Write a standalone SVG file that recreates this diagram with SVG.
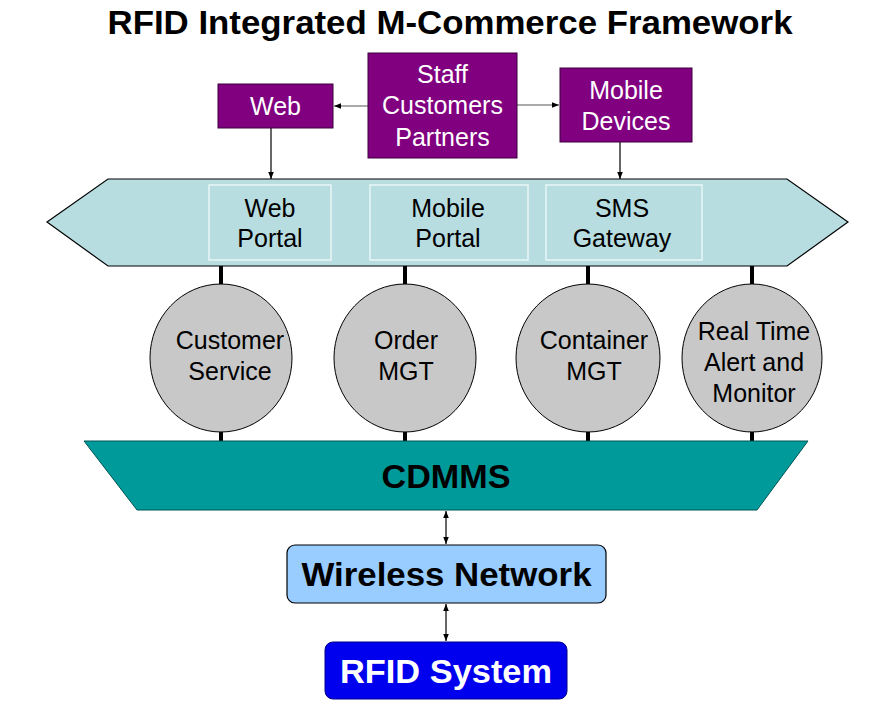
<svg xmlns="http://www.w3.org/2000/svg" width="888" height="713" viewBox="0 0 888 713">
<defs>
<style>
text{font-family:"Liberation Sans",Arial,sans-serif;text-anchor:middle}
.title{font-size:34px;font-weight:bold;fill:#000}
.pbox{fill:#800080;stroke:#3a003a;stroke-width:1}
.ptxt{font-size:25px;fill:#fff}
.band{fill:#b7dde0;stroke:#000;stroke-width:1.2}
.inner{fill:none;stroke:#eaf6f6;stroke-width:1.5}
.btxt{font-size:25px;fill:#000}
.circ{fill:#c8c8c8;stroke:#000;stroke-width:1}
.ctxt{font-size:25px;fill:#000}
.bus{stroke:#000;stroke-width:4}
.thin{stroke:#555;stroke-width:1;fill:none}
.arr{stroke:#000;stroke-width:1.2;fill:none}
.big{font-size:34px;font-weight:bold}
</style>
<marker id="ah" viewBox="0 0 10 10" refX="10" refY="5" markerWidth="7" markerHeight="7" orient="auto-start-reverse" markerUnits="userSpaceOnUse">
<path d="M0,1 L10,5 L0,9 z" fill="#000"/>
</marker>
</defs>
<rect width="888" height="713" fill="#fff"/>
<text class="title" x="450" y="34" textLength="685" lengthAdjust="spacingAndGlyphs">RFID Integrated M-Commerce Framework</text>

<g id="connectors">
<line class="thin" x1="368" y1="106" x2="334" y2="106" marker-end="url(#ah)"/>
<line class="thin" x1="517" y1="105" x2="559" y2="105" marker-end="url(#ah)"/>
<line class="arr" x1="271" y1="128" x2="271" y2="179" marker-end="url(#ah)"/>
<line class="arr" x1="620" y1="142" x2="620" y2="179" marker-end="url(#ah)"/>
<line class="bus" x1="221" y1="266" x2="221" y2="441"/>
<line class="bus" x1="405" y1="266" x2="405" y2="441"/>
<line class="bus" x1="588" y1="266" x2="588" y2="441"/>
<line class="bus" x1="752" y1="266" x2="752" y2="441"/>
<line class="arr" x1="446" y1="511" x2="446" y2="544" marker-start="url(#ah)" marker-end="url(#ah)"/>
<line class="arr" x1="446" y1="604" x2="446" y2="641" marker-start="url(#ah)" marker-end="url(#ah)"/>
</g>

<g id="web">
<rect class="pbox" x="218" y="84" width="115" height="44"/>
<text class="ptxt" x="275.5" y="115">Web</text>
</g>
<g id="staff">
<rect class="pbox" x="368" y="53" width="149" height="105"/>
<text class="ptxt" x="442.5" y="83">Staff</text>
<text class="ptxt" x="442.5" y="114">Customers</text>
<text class="ptxt" x="442.5" y="146">Partners</text>
</g>
<g id="mobile">
<rect class="pbox" x="560" y="68" width="132" height="74"/>
<text class="ptxt" x="626" y="99">Mobile</text>
<text class="ptxt" x="626" y="130">Devices</text>
</g>

<g id="portal-band">
<polygon class="band" points="47,222 108,179 787,179 848,222 787,266 108,266"/>
<rect class="inner" x="209" y="185" width="122" height="75"/>
<rect class="inner" x="370" y="185" width="158" height="75"/>
<rect class="inner" x="546" y="185" width="156" height="75"/>
</g>
<g id="web-portal">
<text class="btxt" x="270" y="217">Web</text>
<text class="btxt" x="270" y="247">Portal</text>
</g>
<g id="mobile-portal">
<text class="btxt" x="448" y="217">Mobile</text>
<text class="btxt" x="448" y="247">Portal</text>
</g>
<g id="sms-gateway">
<text class="btxt" x="622" y="217">SMS</text>
<text class="btxt" x="622" y="247">Gateway</text>
</g>

<g id="customer-service">
<ellipse class="circ" cx="221" cy="358" rx="71" ry="74"/>
<text class="ctxt" x="230" y="349">Customer</text>
<text class="ctxt" x="230" y="380">Service</text>
</g>
<g id="order-mgt">
<ellipse class="circ" cx="405" cy="358" rx="71" ry="74"/>
<text class="ctxt" x="406" y="349">Order</text>
<text class="ctxt" x="406" y="380">MGT</text>
</g>
<g id="container-mgt">
<ellipse class="circ" cx="588" cy="358" rx="72" ry="74"/>
<text class="ctxt" x="594" y="349">Container</text>
<text class="ctxt" x="594" y="380">MGT</text>
</g>
<g id="real-time">
<ellipse class="circ" cx="752" cy="358" rx="70" ry="74"/>
<text class="ctxt" x="754" y="340">Real Time</text>
<text class="ctxt" x="754" y="371">Alert and</text>
<text class="ctxt" x="754" y="402">Monitor</text>
</g>

<g id="cdmms">
<polygon points="84,441 808,441 757,510 137,510" fill="#009a9a" stroke="#005555" stroke-width="1"/>
<text class="big" x="446" y="488" textLength="129" lengthAdjust="spacingAndGlyphs">CDMMS</text>
</g>
<g id="wireless-network">
<rect x="287" y="545" width="319" height="58" rx="8" fill="#99ccff" stroke="#000" stroke-width="1.2"/>
<text class="big" x="446.5" y="586" textLength="290" lengthAdjust="spacingAndGlyphs">Wireless Network</text>
</g>
<g id="rfid-system">
<rect x="325" y="642" width="242" height="57" rx="8" fill="#0000ee" stroke="#00008a" stroke-width="1"/>
<text class="big" x="446" y="683" fill="#fff" textLength="212" lengthAdjust="spacingAndGlyphs">RFID System</text>
</g>
</svg>
